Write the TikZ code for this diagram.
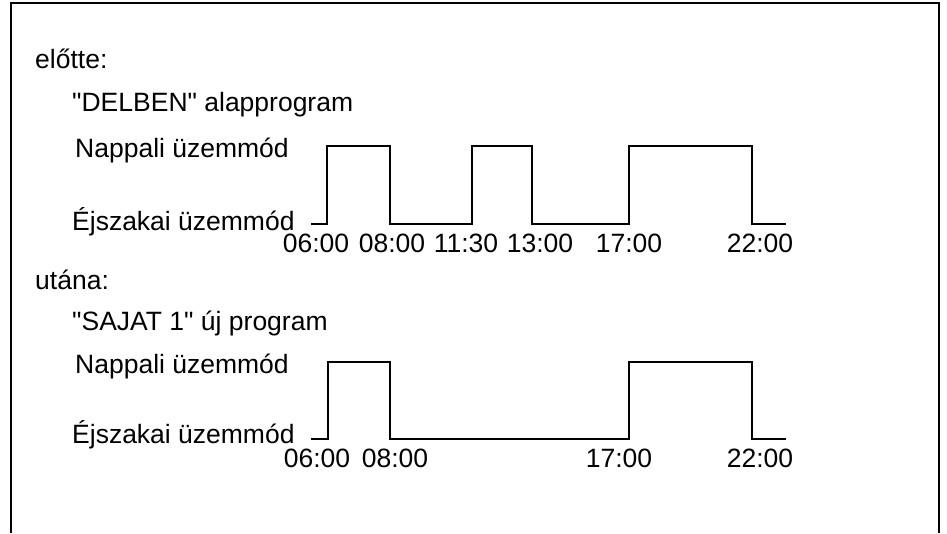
\documentclass[tikz,border=0pt]{standalone}
\usepackage{fontspec}
\setmainfont{Liberation Sans}
\usetikzlibrary{positioning}

\begin{document}
\begin{tikzpicture}[x=1pt, y=-1pt]
    % Define styles
    \tikzstyle{label} = [anchor=base west, inner sep=0pt, font=\fontsize{26.5}{30}\selectfont]
    \tikzstyle{time} = [anchor=base, inner sep=0pt, font=\fontsize{26.5}{30}\selectfont]
    \tikzstyle{signal} = [line width=2pt, line join=miter]
    \tikzstyle{frame} = [line width=1.5pt]

    \useasboundingbox (0,0) rectangle (947,533);

    % Frame
    \draw [frame] (11,533) -- (11,3) -- (939,3) -- (939,533);

    % Nodes (before)
    \node [label] (before) at (35,68) {előtte:};
    \node [label] (oldprog) at (72,111) {\textquotedbl DELBEN\textquotedbl{} alapprogram};
    \node [label] (oldday) at (75,157) {Nappali üzemmód};
    \node [label] (oldnight) at (72,230) {Éjszakai üzemmód};

    \node [time] (t1) at (316,252) {06:00};
    \node [time] (t2) at (392,252) {08:00};
    \node [time] (t3) at (466,252) {11:30};
    \node [time] (t4) at (540,252) {13:00};
    \node [time] (t5) at (629,252) {17:00};
    \node [time] (t6) at (760,252) {22:00};

    % Signal (before)
    \draw [signal] (311,224) -- (327,224) -- (327,146) -- (390,146) -- (390,224)
        -- (472,224) -- (472,146) -- (532,146) -- (532,224)
        -- (629,224) -- (629,146) -- (752,146) -- (752,224) -- (786,224);

    % Nodes (after)
    \node [label] (after) at (35,289) {utána:};
    \node [label] (newprog) at (72,330) {\textquotedbl SAJAT 1\textquotedbl{} új program};
    \node [label] (newday) at (75,373) {Nappali üzemmód};
    \node [label] (newnight) at (72,443) {Éjszakai üzemmód};

    \node [time] (u1) at (317,467) {06:00};
    \node [time] (u2) at (395,467) {08:00};
    \node [time] (u5) at (619,467) {17:00};
    \node [time] (u6) at (760,467) {22:00};

    % Signal (after)
    \draw [signal] (311,439) -- (328,439) -- (328,362) -- (390,362) -- (390,439)
        -- (629,439) -- (629,362) -- (752,362) -- (752,439) -- (786,439);
\end{tikzpicture}
\end{document}
